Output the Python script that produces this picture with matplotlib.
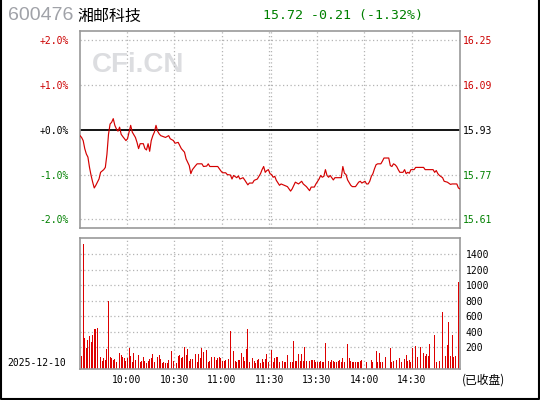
import numpy as np
import matplotlib
matplotlib.use("Agg")
import matplotlib.pyplot as plt

# 标题信息
code = "600476"
name = "湘邮科技"
quote = "15.72 -0.21 (-1.32%)"
date = "2025-12-10"
prev_close = 15.93

# 分时走势: 分钟序号 (0 = 9:30, 120 = 11:30, 240 = 15:00) 与涨跌幅 %
t_price = [0, 1, 2, 3, 4, 5, 6, 7, 8, 9, 10, 12, 13, 15, 16, 17, 18, 19, 20, 21,
           22, 23, 24, 25, 26, 27, 29, 30, 31, 32, 33, 35, 36, 37, 38, 40, 41, 42, 43, 44,
           45, 46, 47, 48, 49, 50, 51, 54, 56, 57, 59, 60, 62, 63, 64, 66, 67, 69, 70, 71,
           73, 74, 77, 78, 80, 81, 82, 87, 89, 90, 92, 93, 95, 96, 97, 99, 100, 101, 103, 104,
           106, 107, 109, 110, 112, 114, 115, 116, 117, 118, 119, 120, 121, 122, 123, 124, 126, 127, 129, 131,
           133, 134, 136, 137, 138, 140, 141, 143, 145, 146, 148, 149, 151, 152, 153, 154, 155, 156, 157, 158,
           159, 160, 161, 165, 166, 167, 168, 169, 171, 172, 174, 176, 177, 178, 180, 181, 182, 183, 184, 185,
           186, 187, 188, 190, 191, 192, 195, 196, 197, 198, 199, 200, 201, 202, 204, 205, 206, 207, 208, 209,
           211, 212, 217, 218, 223, 224, 225, 226, 227, 229, 230, 232, 234, 235, 238, 239, 240]
pct = [-0.13, -0.17, -0.24, -0.42, -0.54, -0.61, -0.84, -1.02, -1.17, -1.30, -1.24, -1.10, -0.95, -0.89, -0.84, -0.55, -0.10, 0.13, 0.17, 0.25,
       0.10, 0.02, -0.03, 0.06, -0.10, -0.15, -0.24, -0.20, -0.05, 0.10, -0.05, -0.17, -0.28, -0.42, -0.31, -0.31, -0.42, -0.45, -0.31, -0.48,
       -0.24, -0.13, -0.05, 0.10, -0.03, -0.09, -0.13, -0.17, -0.13, -0.20, -0.24, -0.30, -0.28, -0.35, -0.42, -0.50, -0.65, -0.80, -0.98, -0.89,
       -0.80, -0.76, -0.76, -0.82, -0.81, -0.76, -0.82, -0.82, -0.92, -0.96, -0.96, -1.00, -1.01, -1.10, -1.02, -1.07, -1.03, -1.10, -1.07, -1.12,
       -1.23, -1.19, -1.19, -1.13, -1.10, -0.98, -0.89, -0.82, -0.95, -0.91, -0.89, -0.98, -1.00, -1.06, -1.04, -1.13, -1.24, -1.21, -1.24, -1.27,
       -1.37, -1.32, -1.17, -1.19, -1.21, -1.15, -1.21, -1.27, -1.36, -1.28, -1.28, -1.21, -1.10, -1.02, -1.06, -1.04, -0.89, -1.02, -1.06, -1.02,
       -1.07, -1.12, -1.07, -1.07, -0.82, -0.97, -1.00, -1.12, -1.24, -1.27, -1.27, -1.17, -1.15, -1.19, -1.15, -1.21, -1.21, -1.15, -1.04, -0.98,
       -0.87, -0.78, -0.76, -0.76, -0.70, -0.63, -0.63, -0.80, -0.82, -0.76, -0.78, -0.82, -0.89, -0.95, -0.95, -0.89, -0.98, -0.95, -0.97, -0.89,
       -0.89, -0.84, -0.84, -0.89, -0.89, -0.95, -0.91, -0.98, -1.02, -1.07, -1.15, -1.17, -1.22, -1.21, -1.21, -1.30, -1.32]

# 成交量 (手): 分钟序号与数值
vol_t = (list(range(1, 57)) + list(range(58, 79)) + list(range(80, 93)) + list(range(94, 108)) + list(range(109, 121))
         + [121, 122, 123, 124, 125, 126, 128, 129, 130, 131, 132, 133, 134, 135, 136, 137, 138, 139, 140, 141,
            142, 143, 144, 145, 146, 147, 148, 149, 150, 151, 152, 153, 154, 155, 156, 157, 158, 159, 160, 161,
            162, 163, 164, 165, 166, 167, 169, 170, 171, 172, 173, 174, 175, 176, 177, 178, 180, 181, 184, 185,
            187, 188, 189, 190, 191, 192, 193, 196, 197, 198, 200, 202, 203, 205, 206, 207, 208, 209, 210, 212,
            213, 215, 217, 218, 219, 220, 221, 224, 225, 227, 228, 229, 231, 232, 233, 234, 235, 236, 237, 239])
vol = [88, 1533, 316, 187, 294, 346, 273, 359, 432, 432, 445,
       49, 71, 23, 58, 36, 174, 797, 71, 58, 36, 49, 15, 49, 122, 101, 79, 66, 23, 58, 187, 88, 6, 122, 36,
       49, 96, 15, 23, 71, 23, 2, 23, 49, 62, 109, 6, 139, 71, 96, 45, 2, 10, 2, 2, 36,
       152, 23, 79, 2, 88, 96, 58, 71, 200, 101, 174, 23, 45, 45, 88, 109, 15, 109, 58, 191, 144,
       165, 15, 23, 71, 36, 71, 36, 58, 71, 58, 23, 23, 36,
       45, 410, 174, 152, 28, 10, 36, 36, 131, 79, 23, 174, 436, 15,
       62, 28, 2, 32, 49, 2, 53, 15, 53, 114, 10, 28,
       165, 5, 66, 71, 79, 5, 23, 5, 5, 101, 66, 5, 5, 281, 23, 23, 114, 23, 109, 23,
       204, 23, 66, 23, 36, 36, 36, 5, 10, 10, 23, 5, 5, 251, 5, 23, 10, 36, 23, 10,
       10, 23, 36, 5, 66, 10, 238, 66, 23, 10, 5, 10, 10, 10, 23, 36, 58, 5, 36, 5,
       152, 10, 122, 10, 10, 10, 75, 195, 10, 23, 36, 58, 5, 45, 101, 23, 36, 10, 195, 217,
       75, 204, 131, 88, 114, 88, 243, 359, 5, 23, 88, 660, 88, 230, 531, 88, 359, 75, 88, 1047]

time_ticks = [30, 60, 90, 120, 150, 180, 210]
time_labels = ["10:00", "10:30", "11:00", "11:30", "13:30", "14:00", "14:30"]
pct_ticks = [2, 1, 0, -1, -2]
pct_labels = ["+2.0%", "+1.0%", "+0.0%", "-1.0%", "-2.0%"]
vol_ticks = [200, 400, 600, 800, 1000, 1200, 1400]

red = "#cc0000"
green = "#008000"
grid_c = "#b4b4b4"
frame_c = "#999999"
line_c = "#d40000"
mono = "DejaVu Sans Mono"

fig = plt.figure(figsize=(5.4, 4.0), dpi=100)
fig.patch.set_facecolor("white")

# 价格面板
ax = fig.add_axes([80 / 540, 172 / 400, 380 / 540, 197 / 400])
ax.set_xlim(0, 240)
ax.set_ylim(-2.195, 2.21)
for s in ax.spines.values():
    s.set_color(frame_c)
    s.set_linewidth(1.2)
for p in [2, 1, -1, -2]:
    ax.axhline(p, color=grid_c, lw=0.9, ls=(0, (1, 2)))
for t in time_ticks:
    ax.axvline(t - 0.5, color=grid_c, lw=0.9, ls=(0, (1, 2)))
ax.axvline(120.8, color=grid_c, lw=0.9, ls=(0, (1, 2)))
ax.axhline(0, color="black", lw=1.3)
ax.plot(t_price, pct, color=line_c, lw=0.85, zorder=3)
ax.set_xticks([])
ax.set_yticks(pct_ticks)
ax.set_yticklabels(pct_labels, fontfamily=mono, fontsize=7)
ax.tick_params(axis="y", length=0, pad=8)
for lab, p in zip(ax.get_yticklabels(), pct_ticks):
    lab.set_color(red if p > 0 else (green if p < 0 else "black"))

ax.text(0.03, 0.825, "CFi.CN", transform=ax.transAxes, ha="left", va="center",
        fontsize=20, fontweight="bold", family="Liberation Sans", color="#dcdde0", zorder=0)

axr = ax.twinx()
lo, hi = ax.get_ylim()
axr.set_ylim(prev_close * (1 + lo / 100), prev_close * (1 + hi / 100))
price_ticks = [prev_close * (1 + p / 100) for p in pct_ticks]
axr.set_yticks(price_ticks)
axr.set_yticklabels(["%.2f" % v for v in price_ticks], fontfamily=mono, fontsize=7)
axr.tick_params(axis="y", length=0, pad=2)
for lab, p in zip(axr.get_yticklabels(), pct_ticks):
    lab.set_color(red if p > 0 else (green if p < 0 else "black"))
for s in axr.spines.values():
    s.set_visible(False)

# 成交量面板
floor = -84
axv = fig.add_axes([80 / 540, 30.7 / 400, 380 / 540, 131 / 400])
axv.set_xlim(0, 240)
axv.set_ylim(floor, 1606)
for s in axv.spines.values():
    s.set_color(frame_c)
    s.set_linewidth(1.2)
for v in vol_ticks:
    axv.axhline(v, color=grid_c, lw=0.9, ls=(0, (1, 2)), zorder=0)
for t in time_ticks:
    axv.axvline(t - 0.5, color=grid_c, lw=0.9, ls=(0, (1, 2)), zorder=0)
axv.axvline(120.8, color=grid_c, lw=0.9, ls=(0, (1, 2)), zorder=0)
vt = np.array(vol_t)
vv = np.array(vol)
axv.bar(vt, vv - floor, bottom=floor, width=0.62, color="#dd0000", linewidth=0, zorder=2)
axv.yaxis.tick_right()
axv.set_yticks(vol_ticks)
axv.set_yticklabels([str(v) for v in vol_ticks], fontfamily=mono, fontsize=7)
axv.tick_params(axis="y", length=0, pad=4)
axv.set_xticks([t - 0.5 for t in time_ticks])
axv.set_xticklabels(time_labels, fontfamily=mono, fontsize=7)
axv.tick_params(axis="x", length=0, pad=4)

# 标题
fig.text(8 / 540, 1 - 16 / 400, code, fontsize=14, family="Liberation Sans", color="#a0a2a8", va="center")
fig.text(77 / 540, 1 - 16 / 400, name, fontsize=11.5, family="Noto Sans CJK SC", color="black", va="center")
fig.text(263 / 540, 1 - 15 / 400, quote, fontsize=9.5, family=mono, color=green, va="center")
fig.text(7 / 540, 1 - 363 / 400, date, fontsize=7, family=mono, color="black", va="center")
fig.text(462 / 540, 1 - 380 / 400, "(已收盘)", fontsize=8.5, family=["Noto Sans CJK SC", "DejaVu Sans"],
         color="black", va="center")

# 外框
fig.add_artist(plt.Line2D([0.001, 0.001, 0.999, 0.999], [1, 0.002, 0.002, 1],
                          transform=fig.transFigure, color="black", lw=1.5))

fig.savefig("out.png", dpi=100)
